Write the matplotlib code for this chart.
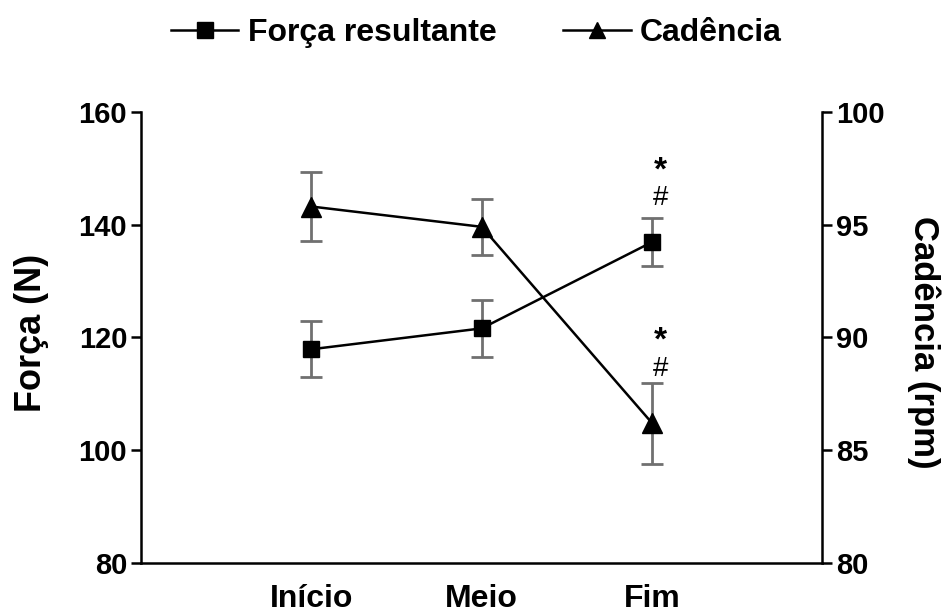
import matplotlib.pyplot as plt
from matplotlib.lines import Line2D

# data
fases = ["Início", "Meio", "Fim"]
forca = [117.9, 121.6, 136.9]
forca_err = [5.0, 5.1, 4.2]
cadencia = [95.8, 94.9, 86.2]
cadencia_err = [1.55, 1.25, 1.8]

plt.rcParams['font.family'] = ['Liberation Sans', 'DejaVu Sans']

fig = plt.figure(figsize=(9.53, 6.14), dpi=100)
ax = fig.add_axes([0.148, 0.083, 0.715, 0.735])
ax2 = ax.twinx()

x = [1, 2, 3]
gray = '#707070'

ax.errorbar(x, forca, yerr=forca_err, color='black', marker='s', ms=12,
            lw=1.8, ecolor=gray, elinewidth=2, capsize=8, capthick=2, zorder=3)
ax2.errorbar(x, cadencia, yerr=cadencia_err, color='black', marker='^', ms=14,
             lw=1.8, ecolor=gray, elinewidth=2, capsize=8, capthick=2, zorder=3)

ax.set_xlim(0, 4)
ax.set_ylim(80, 160)
ax.set_yticks([80, 100, 120, 140, 160])
ax2.set_ylim(80, 100)
ax2.set_yticks([80, 85, 90, 95, 100])

ax.set_xticks(x)
ax.set_xticklabels(fases, fontsize=23, fontweight='bold')
ax.tick_params(axis='x', length=0, pad=15)

for a in (ax, ax2):
    a.spines['top'].set_visible(False)
    for s in a.spines.values():
        s.set_linewidth(1.8)
    a.tick_params(axis='y', direction='out', length=7, width=1.8, labelsize=21, pad=3)
    for lab in a.get_yticklabels():
        lab.set_fontweight('bold')
ax.spines['right'].set_visible(False)
ax2.spines['left'].set_visible(False)
ax2.spines['bottom'].set_visible(False)

ax.set_ylabel("Força (N)", fontsize=26, fontweight='bold')
ax.yaxis.set_label_coords(-0.135, 0.51)
ax2.set_ylabel("Cadência (rpm)", fontsize=25, fontweight='bold', rotation=270, va='center')
ax2.yaxis.set_label_coords(1.148, 0.49)

# significance marks above Fim
ax.text(3.05, 149.5, "*", fontsize=24, fontweight='bold', ha='center', va='center')
ax.text(3.05, 144.7, "#", fontsize=20, ha='center', va='center')
ax2.text(3.05, 89.85, "*", fontsize=24, fontweight='bold', ha='center', va='center')
ax2.text(3.05, 88.6, "#", fontsize=20, ha='center', va='center')

handles = [
    Line2D([], [], color='black', marker='s', ms=11, lw=1.8),
    Line2D([], [], color='black', marker='^', ms=12, lw=1.8),
]
leg = fig.legend(handles, ["Força resultante", "Cadência"], loc='upper center',
                 bbox_to_anchor=(0.5, 1.017), ncol=2, frameon=False,
                 prop={'size': 23, 'weight': 'bold'}, handlelength=2.1,
                 handletextpad=0.3, columnspacing=2.1)

fig.savefig("out.png", dpi=100)
